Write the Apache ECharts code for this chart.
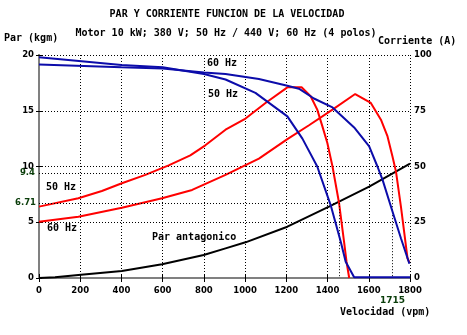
<!DOCTYPE html>
<html>
<head>
<meta charset="utf-8">
<script src="https://cdn.jsdelivr.net/npm/echarts@6/dist/echarts.min.js"></script>
<style>
html,body{margin:0;padding:0;background:#fff;}
#chart{width:467px;height:335px;}
</style>
</head>
<body>
<div id="chart"></div>
<script>
// Speed (vpm) / value pairs
var torque50 = [[0,6.4],[191,7.15],[305,7.8],[402,8.5],[516,9.25],[629,10.1],[734,11.0],[807,11.9],[905,13.3],[1002,14.3],[1099,15.7],[1205,17.1],[1274,17.1],[1318,16.3],[1350,15.1],[1375,13.6],[1399,12.1],[1424,10.0],[1456,6.7],[1480,3.26],[1492,1.46],[1505,0]];
var torque60 = [[0,5.05],[191,5.5],[402,6.3],[597,7.15],[743,7.9],[905,9.25],[1067,10.7],[1205,12.45],[1310,13.7],[1424,15.1],[1534,16.5],[1610,15.7],[1659,14.2],[1691,12.7],[1715,10.9],[1732,9.54],[1756,6.4],[1788,1.77],[1797,1.4]];
var current50 = [[0,99],[400,95.5],[600,94.5],[800,91.5],[905,89],[1050,83],[1205,72.5],[1278,62.5],[1350,50],[1415,32.7],[1464,16.3],[1488,7.3],[1529,0.3],[1800,0.3]];
var current60 = [[0,95.75],[400,94.5],[600,94],[800,92.2],[905,91.5],[1067,89.2],[1205,86.2],[1261,84.9],[1334,80.5],[1424,76.5],[1529,67.5],[1602,59],[1642,50],[1667,44],[1715,29.8],[1756,17.8],[1797,6.4]];
var loadTorque = [[0,0],[78,0.06],[191,0.27],[402,0.63],[597,1.23],[799,2.06],[905,2.66],[1002,3.2],[1205,4.6],[1407,6.4],[1602,8.2],[1800,10.25]];
var opPoint50 = [1455, 6.71];
var opPoint60 = [1715, 9.4];

var MONO = '"DejaVu Sans Mono", monospace';
var SANS = '"DejaVu Sans", sans-serif';
var GREEN = '#0a3d0a';
var RED = '#ff0000';
var BLUE = '#0c0caa';
var GRAY = '#808080';
var dots = [1, 2];

var chart = echarts.init(document.getElementById('chart'), null, {renderer: 'canvas'});

function txt(x, y, s, align) {
  return {type: 'text', x: x, y: y, style: {text: s, font: 'bold 10px ' + MONO, fill: '#000', align: align || 'left', verticalAlign: 'middle', textAlign: align || 'left', textVerticalAlign: 'middle'}};
}

var labelStyle = {color: '#000', fontWeight: 'bold', fontSize: 8.5, fontFamily: SANS, formatter: function (v) { return String(v); }};

var option = {
  backgroundColor: '#fff',
  animation: false,
  grid: {left: 39, right: 57, top: 55, bottom: 57, containLabel: false},
  xAxis: [{
    type: 'value', min: 0, max: 1800, interval: 200, position: 'bottom',
    axisLine: {lineStyle: {color: GRAY, width: 2}},
    axisTick: {inside: true, length: 4, lineStyle: {color: '#000'}},
    axisLabel: Object.assign({margin: 8}, labelStyle),
    splitLine: {show: true, lineStyle: {color: '#000', type: dots, width: 1}}
  }, {
    type: 'value', min: 0, max: 1800, interval: 200, position: 'top',
    axisLine: {lineStyle: {color: GRAY, width: 2}},
    axisTick: {inside: true, length: 4, lineStyle: {color: '#000'}},
    axisLabel: {show: false}, splitLine: {show: false}
  }],
  yAxis: [{
    type: 'value', min: 0, max: 20, interval: 5, position: 'left',
    axisLine: {show: true, lineStyle: {color: GRAY, width: 2}},
    axisTick: {show: true, length: 3, lineStyle: {color: '#000'}},
    axisLabel: Object.assign({margin: 5}, labelStyle),
    splitLine: {show: true, lineStyle: {color: '#000', type: dots, width: 1}}
  }, {
    type: 'value', min: 0, max: 100, interval: 25, position: 'right',
    axisLine: {show: true, lineStyle: {color: GRAY, width: 2}},
    axisTick: {show: true, length: 3, lineStyle: {color: '#000'}},
    axisLabel: Object.assign({margin: 4}, labelStyle),
    splitLine: {show: false}
  }],
  series: [
    {type: 'line', data: loadTorque, yAxisIndex: 0, symbol: 'none', smooth: false,
     lineStyle: {color: '#000', width: 2}, z: 3,
     markLine: {
       symbol: ['none', 'none'], silent: true, animation: false,
       lineStyle: {color: '#000', type: dots, width: 1},
       data: [
         [{coord: [0, opPoint60[1]], name: String(opPoint60[1]), label: {show: true, position: 'start', formatter: '{b}', color: GREEN, fontWeight: 'bold', fontSize: 8.5, fontFamily: SANS, distance: 4}},
          {coord: [opPoint60[0], opPoint60[1]]}],
         [{coord: [opPoint60[0], opPoint60[1]], name: String(opPoint60[0]), label: {show: true, position: 'end', formatter: '{b}', color: GREEN, fontWeight: 'bold', fontSize: 9, fontFamily: SANS, distance: 18}},
          {coord: [opPoint60[0], 0]}],
         [{coord: [0, opPoint50[1]], name: String(opPoint50[1]), label: {show: true, position: 'start', formatter: '{b}', color: GREEN, fontWeight: 'bold', fontSize: 8.5, fontFamily: SANS, distance: 3}},
          {coord: [opPoint50[0], opPoint50[1]]}],
         [{coord: [opPoint50[0], opPoint50[1]], label: {show: false}},
          {coord: [opPoint50[0], 0]}]
       ]
     }},
    {type: 'line', data: torque50, yAxisIndex: 0, symbol: 'none', lineStyle: {color: RED, width: 2}, z: 4},
    {type: 'line', data: torque60, yAxisIndex: 0, symbol: 'none', lineStyle: {color: RED, width: 2}, z: 4},
    {type: 'line', data: current50, yAxisIndex: 1, symbol: 'none', lineStyle: {color: BLUE, width: 2}, z: 5},
    {type: 'line', data: current60, yAxisIndex: 1, symbol: 'none', lineStyle: {color: BLUE, width: 2}, z: 5}
  ],
  graphic: [
    txt(227, 14, 'PAR Y CORRIENTE FUNCION DE LA VELOCIDAD', 'center'),
    txt(226, 33, 'Motor 10 kW; 380 V; 50 Hz / 440 V; 60 Hz (4 polos)', 'center'),
    txt(4, 38, 'Par (kgm)'),
    txt(378, 41, 'Corriente (A)'),
    txt(340, 312, 'Velocidad (vpm)'),
    txt(207, 63, '60 Hz'),
    txt(208, 94, '50 Hz'),
    txt(46, 187, '50 Hz'),
    txt(47, 228, '60 Hz'),
    txt(152, 237, 'Par antagonico')
  ]
};
chart.setOption(option);
</script>
</body>
</html>
